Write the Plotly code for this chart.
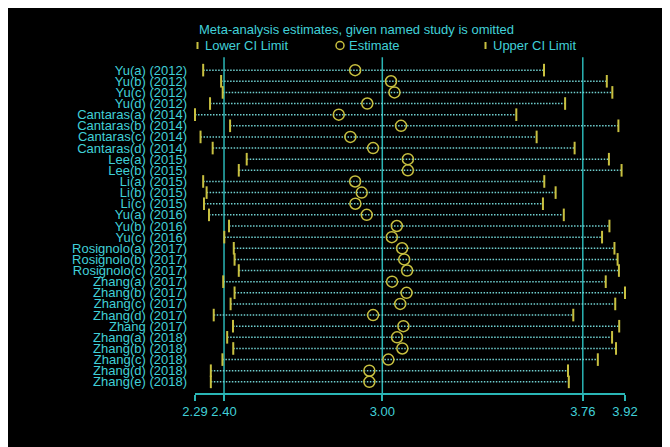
import plotly.graph_objects as go

studies = ["Yu(a) (2012)", "Yu(b) (2012)", "Yu(c) (2012)", "Yu(d) (2012)",
           "Cantaras(a) (2014)", "Cantaras(b) (2014)", "Cantaras(c) (2014)", "Cantaras(d) (2014)",
           "Lee(a) (2015)", "Lee(b) (2015)", "Li(a) (2015)", "Li(b) (2015)", "Li(c) (2015)",
           "Yu(a) (2016)", "Yu(b) (2016)", "Yu(c) (2016)",
           "Rosignolo(a) (2017)", "Rosignolo(b) (2017)", "Rosignolo(c) (2017)",
           "Zhang(a) (2017)", "Zhang(b) (2017)", "Zhang(c) (2017)", "Zhang(d) (2017)",
           "Zhang (2017)", "Zhang(a) (2018)", "Zhang(b) (2018)", "Zhang(c) (2018)",
           "Zhang(d) (2018)", "Zhang(e) (2018)"]
estimate = [2.897, 3.033, 3.046, 2.943, 2.835, 3.071, 2.879, 2.965, 3.097, 3.097,
            2.897, 2.922, 2.898, 2.941, 3.055, 3.036, 3.075, 3.083, 3.094, 3.037,
            3.092, 3.068, 2.965, 3.080, 3.056, 3.076, 3.023, 2.951, 2.951]
lower = [2.321, 2.389, 2.395, 2.347, 2.290, 2.423, 2.311, 2.357, 2.486, 2.456,
         2.321, 2.334, 2.324, 2.343, 2.419, 2.401, 2.437, 2.440, 2.456, 2.397,
         2.440, 2.425, 2.361, 2.434, 2.412, 2.435, 2.394, 2.350, 2.350]
upper = [3.613, 3.851, 3.872, 3.693, 3.508, 3.895, 3.585, 3.729, 3.859, 3.907,
         3.614, 3.657, 3.609, 3.688, 3.861, 3.833, 3.880, 3.892, 3.897, 3.847,
         3.920, 3.883, 3.724, 3.898, 3.871, 3.886, 3.817, 3.704, 3.707]
tick_vals = [2.29, 2.40, 3.00, 3.76, 3.92]
ref_lines = [2.40, 3.00, 3.76]

TEAL = "#2ab5b5"
CYAN = "#40d0d8"
YEL = "#c8c040"
DOT = "#70d0d0"
FONT = "Liberation Sans, Arial, sans-serif"

ypos = list(range(1, len(studies) + 1))

fig = go.Figure()
xs, ys = [], []
for lo, hi, y in zip(lower, upper, ypos):
    xs += [lo, hi, None]
    ys += [y, y, None]
fig.add_trace(go.Scatter(x=xs, y=ys, mode="lines",
                         line=dict(color=DOT, width=1.5, dash="1.5px,1.5px"),
                         hoverinfo="skip", showlegend=False))
fig.add_trace(go.Scatter(x=lower, y=ypos, mode="markers",
                         marker=dict(symbol="line-ns", size=9,
                                     line=dict(color=YEL, width=2)),
                         showlegend=False, cliponaxis=False))
fig.add_trace(go.Scatter(x=upper, y=ypos, mode="markers",
                         marker=dict(symbol="line-ns", size=9,
                                     line=dict(color=YEL, width=2)),
                         showlegend=False, cliponaxis=False))
fig.add_trace(go.Scatter(x=estimate, y=ypos, mode="markers",
                         marker=dict(symbol="circle-open", size=11,
                                     color=YEL, line=dict(color=YEL, width=1.5)),
                         showlegend=False, cliponaxis=False))

for v in ref_lines:
    fig.add_shape(type="line", xref="x", yref="paper", x0=v, x1=v, y0=0, y1=1.005,
                  line=dict(color=TEAL, width=1.5), layer="below")

OFF = 8  # page body margin
W, H = 670 - OFF, 447 - OFF
L, T = 195 - OFF, 59 - OFF
R = W - (625 - OFF)
B = H - (393 - OFF)
pw, ph = W - L - R, H - T - B

def px(xp):
    return (xp - OFF - L) / pw

def py(yp):
    return (H - B - (yp - OFF)) / ph

fig.add_annotation(x=px(197), y=py(29), xref="paper", yref="paper", xanchor="left",
                   yanchor="middle", showarrow=False,
                   text="Meta-analysis estimates, given named study is omitted",
                   font=dict(family=FONT, size=13, color=CYAN))
ly = 45.5
fig.add_shape(type="line", xref="paper", yref="paper", x0=px(197.5), x1=px(197.5),
              y0=py(49), y1=py(42), line=dict(color=YEL, width=2))
fig.add_annotation(x=px(203), y=py(ly), xref="paper", yref="paper", xanchor="left",
                   yanchor="middle", showarrow=False, text="Lower CI Limit",
                   font=dict(family=FONT, size=13, color=CYAN))
fig.add_shape(type="circle", xref="paper", yref="paper", x0=px(336), x1=px(344),
              y0=py(49.5), y1=py(41.5), line=dict(color=YEL, width=1.5))
fig.add_annotation(x=px(347), y=py(ly), xref="paper", yref="paper", xanchor="left",
                   yanchor="middle", showarrow=False, text="Estimate",
                   font=dict(family=FONT, size=13, color=CYAN))
fig.add_shape(type="line", xref="paper", yref="paper", x0=px(485.5), x1=px(485.5),
              y0=py(49), y1=py(42), line=dict(color=YEL, width=2))
fig.add_annotation(x=px(491), y=py(ly), xref="paper", yref="paper", xanchor="left",
                   yanchor="middle", showarrow=False, text="Upper CI Limit",
                   font=dict(family=FONT, size=13, color=CYAN))

fig.update_layout(
    width=W, height=H,
    margin=dict(l=L, r=R, t=T, b=B, pad=0),
    paper_bgcolor="black", plot_bgcolor="black",
    font=dict(family=FONT, size=13, color=CYAN),
    showlegend=False,
    xaxis=dict(range=[2.29, 3.92], tickvals=tick_vals,
               ticktext=[f"{v:.2f}" for v in tick_vals],
               showgrid=False, zeroline=False, showline=True, linecolor=TEAL,
               linewidth=1.5, ticks="outside", ticklen=6, tickcolor=TEAL,
               tickwidth=1.5, tickfont=dict(family=FONT, size=13, color=CYAN)),
    yaxis=dict(range=[30, 0], tickvals=ypos, ticktext=studies,
               showgrid=False, zeroline=False, showline=False, ticks="",
               ticklabelstandoff=7,
               tickfont=dict(family=FONT, size=13, color=CYAN)),
)

fig.write_html("out.html")
